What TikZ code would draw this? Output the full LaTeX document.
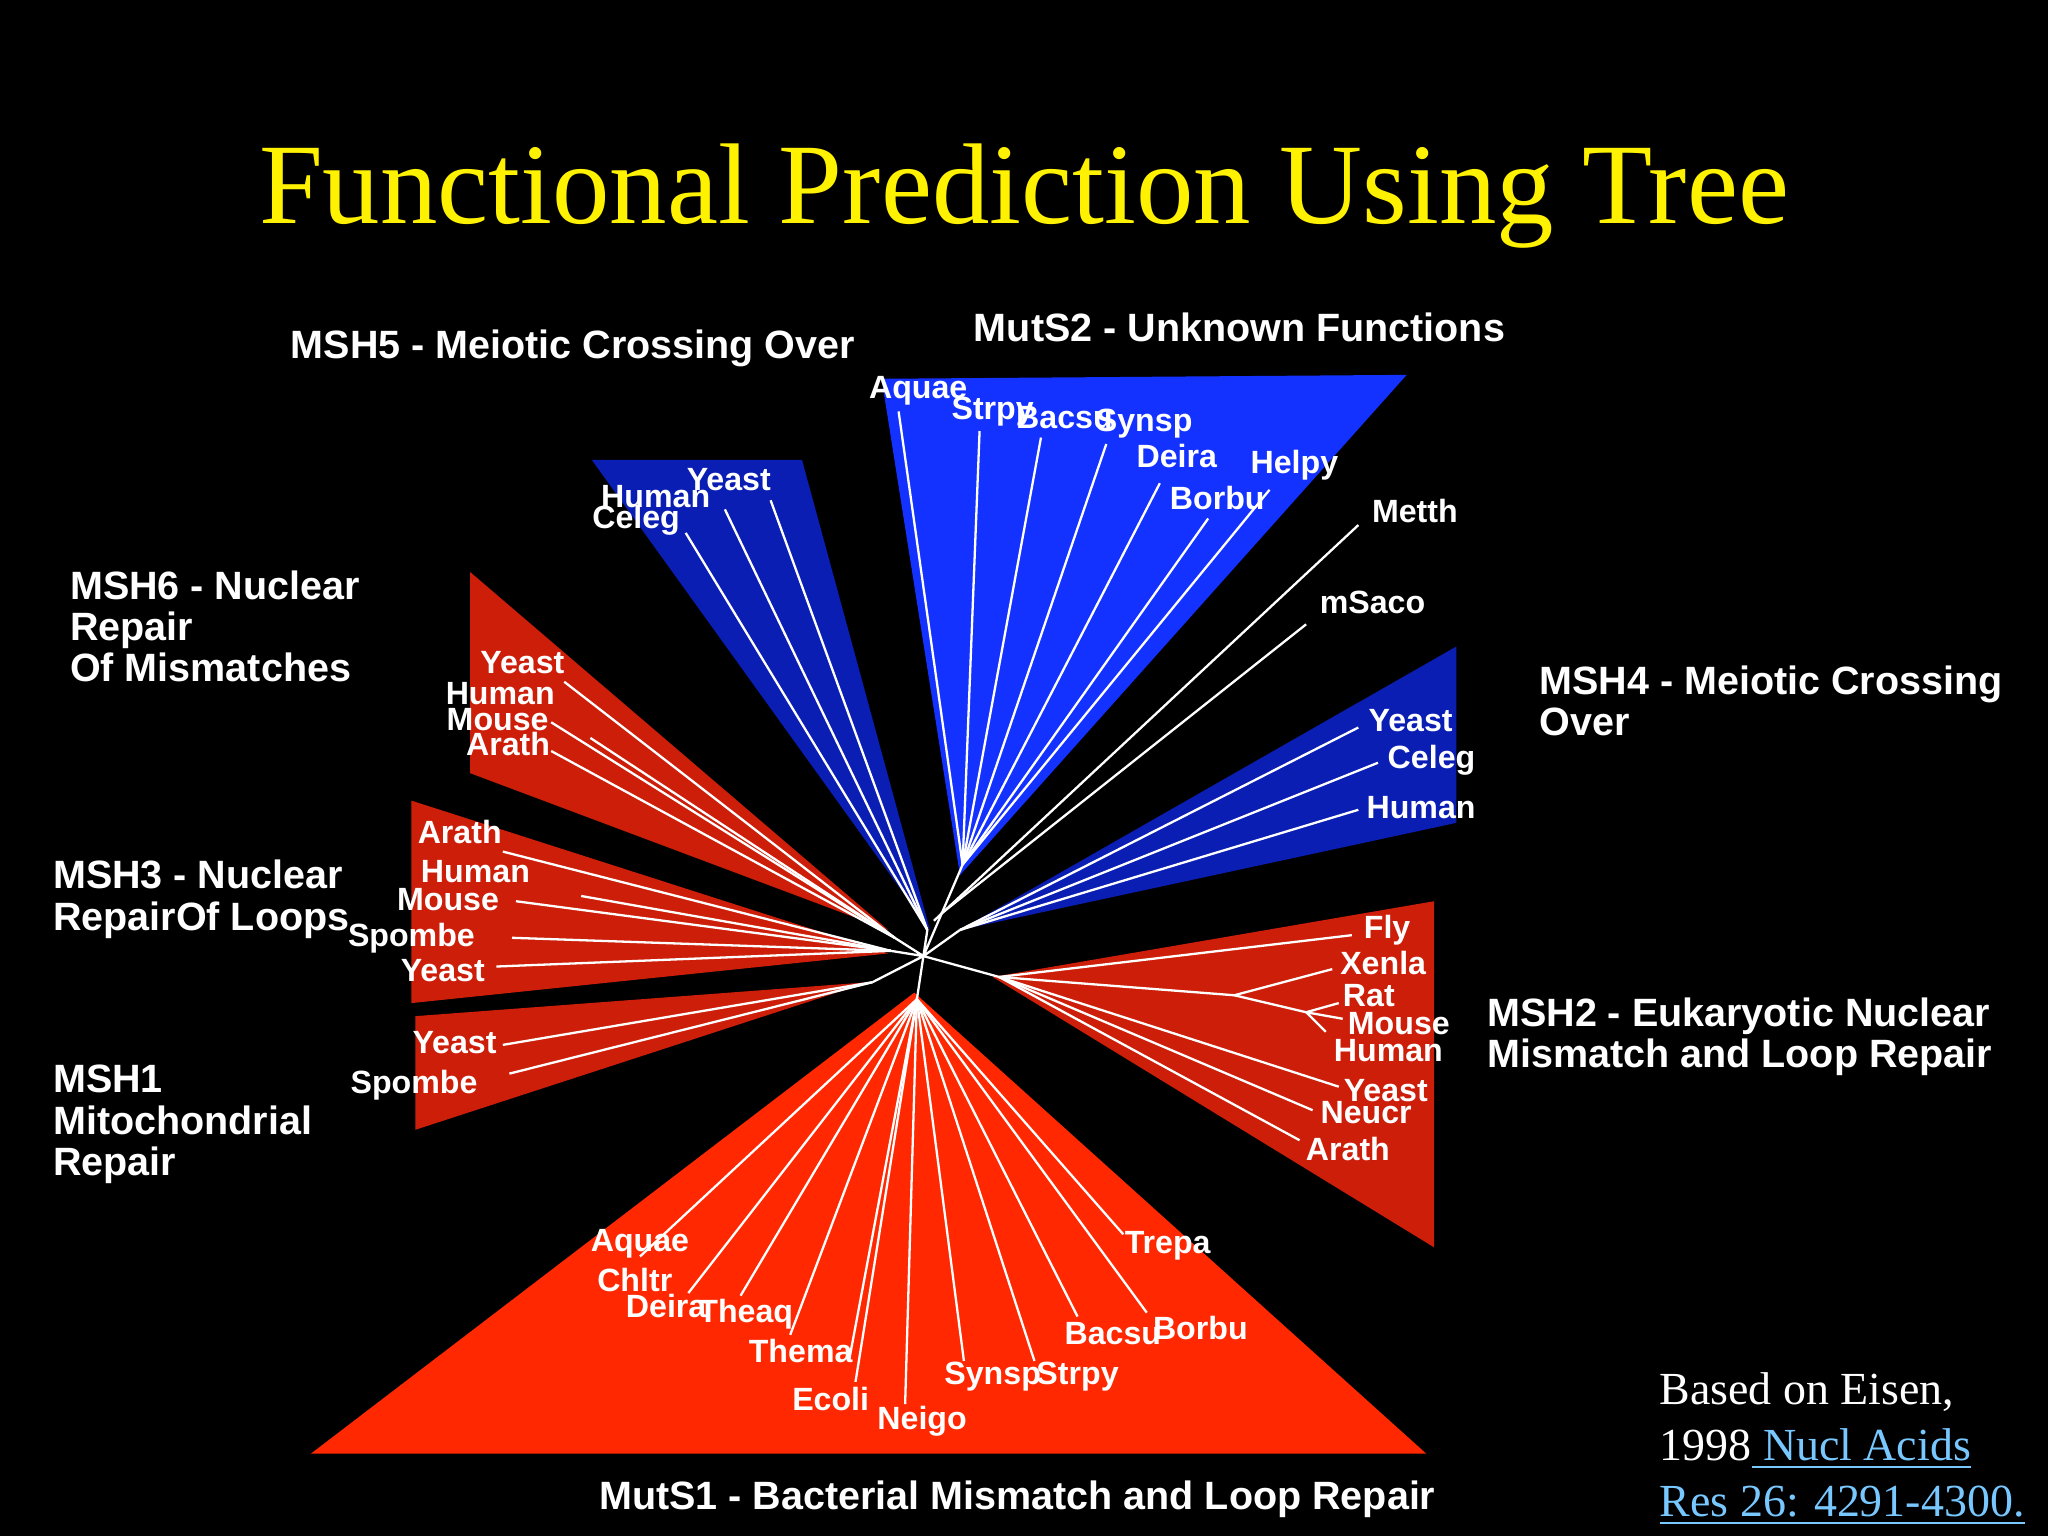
\documentclass[tikz,border=0pt]{standalone}
\usepackage{fontspec}
\setmainfont{Liberation Serif}
\newfontfamily\lab{Liberation Sans}
\begin{document}
\begin{tikzpicture}[x=0.01cm,y=-0.01cm,
  br/.style={white,line width=0.5pt},
  lf/.style={text=white,font=\lab\bfseries\fontsize{7}{8}\selectfont,inner sep=0.5pt},
  hd/.style={text=white,font=\lab\bfseries\fontsize{8.6}{10}\selectfont,align=left,anchor=north west,inner sep=0pt}]
\fill[black] (0,0) rectangle (1568,1176);
\useasboundingbox (0,0) rectangle (1568,1176);
\definecolor{bblue}{RGB}{20,50,255}
\definecolor{dblue}{RGB}{10,30,180}
\definecolor{dred}{RGB}{205,30,10}
\definecolor{ored}{RGB}{255,40,0}
% triangles
\fill[bblue] (675,290)--(1077,287)--(735,670)--cycle;
\fill[dblue] (453,352)--(614,352)--(712,712)--cycle;
\fill[dblue] (1115,495)--(1115,630)--(735,712)--cycle;
\fill[dred] (360,438)--(360,592)--(680,712)--cycle;
\fill[dred] (315,613)--(315,768)--(680,730)--cycle;
\fill[dred] (318,778)--(318,865)--(665,752)--cycle;
\fill[dred] (1098,690)--(1098,955)--(760,748)--cycle;
\fill[ored] (238,1113)--(1092,1113)--(700,760)--cycle;
\node[text=yellow,font=\fontsize{25}{30}\selectfont] (title) at (784,150) {Functional Prediction Using Tree};
% hubs
\coordinate (c) at (707,732);
\coordinate (h2) at (737,662);
\coordinate (h5) at (710,712);
\coordinate (h4) at (735,712);
\coordinate (h6) at (685,718);
\coordinate (h3) at (682,728);
\coordinate (h1) at (668,752);
\coordinate (hm2) at (765,748);
\coordinate (hm2b) at (945,762);
\coordinate (hm2c) at (1000,775);
\coordinate (hs1) at (702,765);
\draw[br] (c)--(h2) (c)--(h5) (c)--(h4) (c)--(h6) (c)--(h3) (c)--(h1) (c)--(hm2) (c)--(hs1);
% MutS2
\foreach \x/\y/\t/\lx/\ly in {688/315/Aquae/703/299, 750/330/Strpy/760/315, 797/335/Bacsu/815/320, 847/340/Synsp/876/324, 888/370/Deira/901/349, 925/397/Borbu/932/381, 972/375/Helpy/991/356}
  {\draw[br] (h2)--(\x,\y); \node[lf] at (\lx,\ly) {\t};}
\draw[br] (715,705)--(1040,402); \node[lf,anchor=west] (metth) at (1048,391) {Metth};
\draw[br] (720,700)--(1000,478); \node[lf,anchor=west] (msaco) at (1008,461) {mSaco};
% MSH5
\foreach \x/\y/\t/\lx/\ly in {590/383/Yeast/558/367, 555/390/Human/502/380, 525/408/Celeg/487/398}
  {\draw[br] (h5)--(\x,\y); \node[lf] at (\lx,\ly) {\t};}
% MSH4
\foreach \x/\y/\t/\lx/\ly in {1040/557/Yeast/1080/552, 1055/584/Celeg/1096/582, 1040/620/Human/1088/618}
  {\draw[br] (h4)--(\x,\y); \node[lf] at (\lx,\ly) {\t};}
% MSH6
\foreach \x/\y/\t/\lx/\ly in {432/522/Yeast/400/507, 452/565/Human/383/531, 422/553/Mouse/381/551, 422/575/Arath/389/570}
  {\draw[br] (h6)--(\x,\y); \node[lf] at (\lx,\ly) {\t};}
% MSH3
\foreach \x/\y/\t/\lx/\ly in {385/652/Arath/352/637, 445/686/Human/364/667, 395/690/Mouse/343/689, 392/718/Spombe/315/718, 380/740/Yeast/339/743}
  {\draw[br] (h3)--(\x,\y); \node[lf] at (\lx,\ly) {\t};}
% MSH1
\foreach \x/\y/\t/\lx/\ly in {385/800/Yeast/348/798, 390/822/Spombe/317/831}
  {\draw[br] (h1)--(\x,\y); \node[lf] at (\lx,\ly) {\t};}
% MSH2
\draw[br] (hm2)--(1035,716); \node[lf] at (1062,712) {Fly};
\draw[br] (hm2)--(hm2b)--(1020,742); \node[lf] at (1059,737) {Xenla};
\draw[br] (hm2b)--(hm2c);
\draw[br] (hm2c)--(1025,768) (hm2c)--(1028,780) (hm2c)--(1015,790);
\node[lf] at (1048,762) {Rat};
\node[lf] at (1071,784) {Mouse};
\node[lf] at (1063,804) {Human};
\foreach \x/\y/\t/\lx/\ly in {1025/832/Yeast/1061/835, 1005/850/Neucr/1046/852, 995/873/Arath/1032/880}
  {\draw[br] (hm2)--(\x,\y); \node[lf] at (\lx,\ly) {\t};}
% MutS1
\foreach \x/\y/\t/\lx/\ly in {490/962/Aquae/490/952, 527/990/Chltr/486/980, 567/992/Deira/510/1000, 605/1022/Theaq/571/1006, 650/1042/Thema/613/1034, 655/1058/Ecoli/636/1071, 693/1075/Neigo/706/1088, 738/1042/Synsp/760/1054, 792/1042/Strpy/825/1054, 825/1008/Bacsu/852/1021, 878/1005/Borbu/919/1017, 860/945/Trepa/894/954}
  {\draw[br] (hs1)--(\x,\y); \node[lf] at (\lx,\ly) {\t};}
% headings
\node[hd] (m5) at (222,252) {MSH5 - Meiotic Crossing Over};
\node[hd] (ms2) at (745,239) {MutS2 - Unknown Functions};
\node[hd] (m6) at (53,436) {MSH6 - Nuclear\\[-1pt]Repair\\[-1pt]Of Mismatches};
\node[hd] (m4) at (1178,509) {MSH4 - Meiotic Crossing\\[-1pt]Over};
\node[hd] (m3) at (40,658) {MSH3 - Nuclear\\[-1pt]RepairOf Loops};
\node[hd] (m2) at (1138,763) {MSH2 - Eukaryotic Nuclear\\[-1pt]Mismatch and Loop Repair};
\node[hd] (m1) at (40,815) {MSH1\\[-1pt]Mitochondrial\\[-1pt]Repair};
\node[hd] (ms1) at (458,1133) {MutS1 - Bacterial Mismatch and Loop Repair};
\definecolor{lnk}{RGB}{120,200,255}
\node[text=white,font=\fontsize{10}{12.2}\selectfont,align=left,anchor=north west,inner sep=0pt] (ref) at (1270,1050)
 {Based on Eisen,\\1998\textcolor{lnk}{\underline{ Nucl Acids}}\\\textcolor{lnk}{\underline{Res 26: 4291-4300.}}};
\end{tikzpicture}
\end{document}
